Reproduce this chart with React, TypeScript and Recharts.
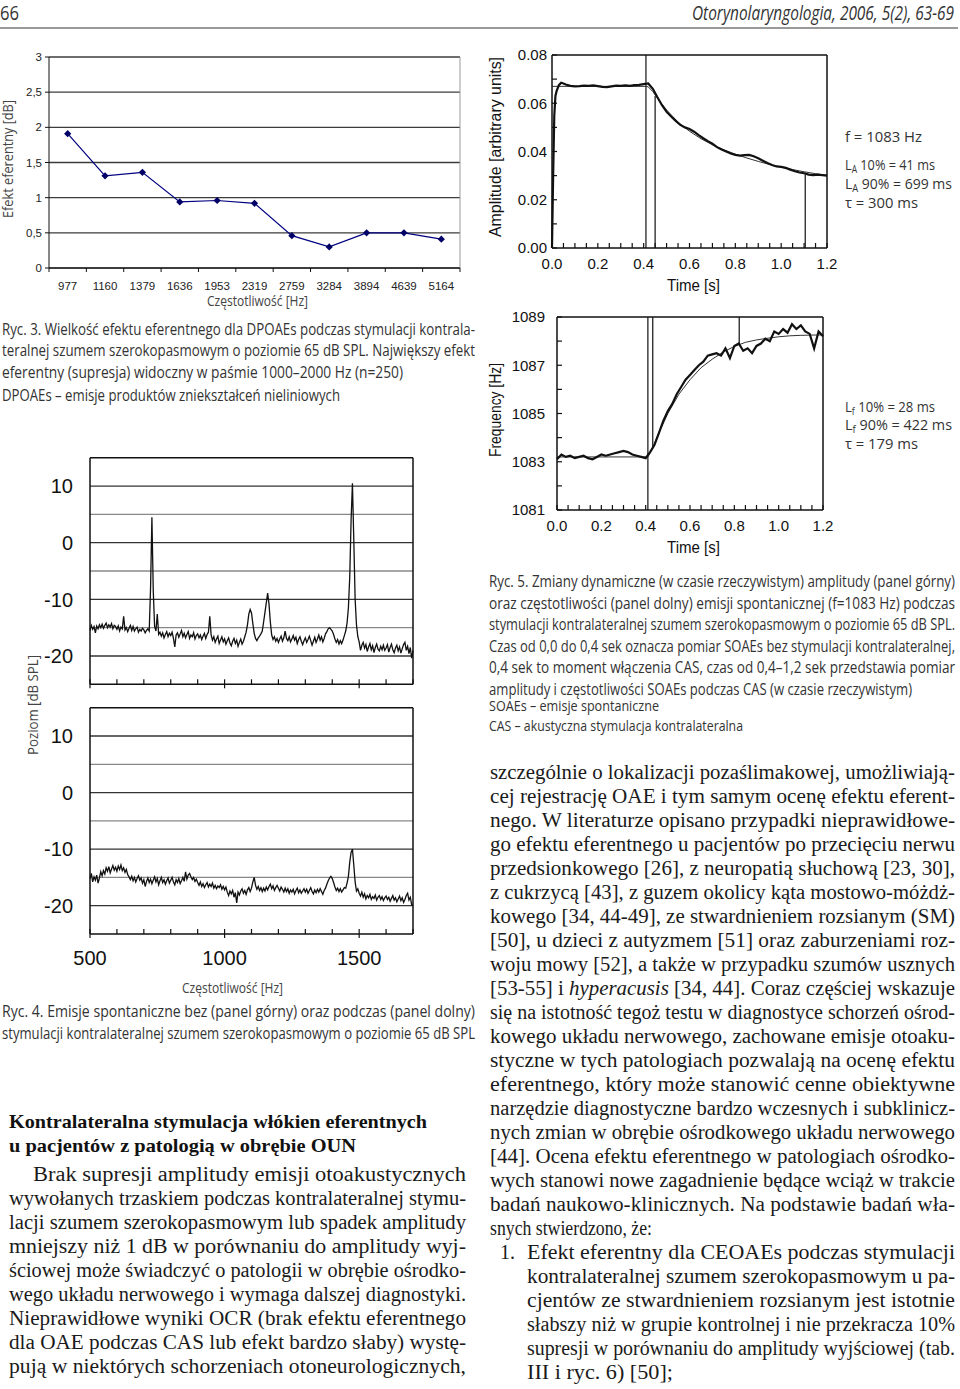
import React from "react";
import { LineChart, Line, XAxis, YAxis, CartesianGrid, ReferenceLine } from "recharts";

// ---- Ryc. 3: efferent effect for DPOAEs ----
const DPOAE_FREQS = ["977", "1160", "1379", "1636", "1953", "2319", "2759", "3284", "3894", "4639", "5164"];
const DPOAE_EFFECT = [1.91, 1.31, 1.36, 0.94, 0.96, 0.92, 0.46, 0.3, 0.5, 0.5, 0.41];
const EFFECT_TICKS = [0, 0.5, 1, 1.5, 2, 2.5, 3];

// ---- Ryc. 5: amplitude of SOAE (upper panel) ----
const AMP_TIME = [0, 0.005, 0.01, 0.015, 0.02, 0.03, 0.04, 0.05, 0.06, 0.08, 0.1, 0.12, 0.14, 0.16, 0.18, 0.2, 0.22, 0.24, 0.26, 0.28, 0.3, 0.32, 0.34, 0.36, 0.38, 0.4, 0.42, 0.44, 0.46, 0.48, 0.5, 0.52, 0.54, 0.56, 0.58, 0.6, 0.62, 0.64, 0.66, 0.68, 0.7, 0.72, 0.74, 0.76, 0.78, 0.8, 0.82, 0.84, 0.86, 0.88, 0.9, 0.92, 0.94, 0.96, 0.98, 1.0, 1.02, 1.04, 1.06, 1.08, 1.1, 1.12, 1.14, 1.16, 1.18, 1.2];
const AMP_VALUE = [0, 0.03, 0.055, 0.063, 0.065, 0.0675, 0.0685, 0.0682, 0.0678,
  0.0672, 0.067, 0.0671, 0.0673, 0.0672, 0.0674, 0.0671,
  0.0668, 0.0667, 0.067, 0.0673, 0.0672, 0.0674, 0.0672, 0.0675, 0.0676, 0.0679,
  0.0682, 0.066, 0.0625, 0.0592, 0.0565, 0.0545, 0.0527, 0.051, 0.05, 0.0493,
  0.0482, 0.0468, 0.0455, 0.0443, 0.0432, 0.0418, 0.0408, 0.04, 0.0392, 0.0386,
  0.0383, 0.0385, 0.0386, 0.038, 0.0372, 0.0362, 0.0352, 0.0344, 0.0338, 0.0336,
  0.0332, 0.0325, 0.0318, 0.0313, 0.031, 0.0304, 0.0302, 0.0304, 0.0302, 0.03];
const AMP_FIT_TIME = [0, 0.41, 0.42, 0.44, 0.46, 0.48, 0.5, 0.55, 0.6, 0.65, 0.7, 0.75, 0.8, 0.85, 0.9, 0.95, 1.0, 1.05, 1.1, 1.15, 1.2];
const AMP_FIT_VALUE = [0.067, 0.067, 0.0668, 0.0648, 0.0622, 0.0596, 0.0572, 0.0522, 0.0484, 0.0453, 0.0428, 0.0407, 0.0389, 0.0373, 0.0359, 0.0346, 0.0335, 0.0325, 0.0316, 0.0308, 0.0301];
const AMP_TICKS = [0, 0.01, 0.02, 0.03, 0.04, 0.05, 0.06, 0.07, 0.08];
const AMP_MARKERS = [
  { t: 0.41, from: 0, to: 0.08 },
  { t: 0.45, from: 0, to: 0.063 },
  { t: 1.105, from: 0, to: 0.0305 },
];

// ---- Ryc. 5: frequency of SOAE (lower panel) ----
const FREQ_TIME = [0, 0.02, 0.04, 0.06, 0.08, 0.1, 0.12, 0.14, 0.16, 0.18, 0.2, 0.22, 0.24, 0.26, 0.28, 0.3, 0.32, 0.34, 0.36, 0.38, 0.4, 0.42, 0.44, 0.46, 0.48, 0.5, 0.52, 0.54, 0.56, 0.58, 0.6, 0.62, 0.64, 0.66, 0.68, 0.7, 0.72, 0.74, 0.76, 0.78, 0.8, 0.82, 0.84, 0.86, 0.88, 0.9, 0.92, 0.94, 0.96, 0.98, 1.0, 1.02, 1.04, 1.06, 1.08, 1.1, 1.12, 1.14, 1.16, 1.18, 1.2];
const FREQ_VALUE = [1083.1, 1083.3, 1083.2, 1083.25, 1083.15, 1083.2, 1083.25, 1083.15, 1083.1, 1083.2,
  1083.3, 1083.25, 1083.3, 1083.35, 1083.4, 1083.45, 1083.4, 1083.3, 1083.25, 1083.2,
  1083.15, 1083.4, 1083.7, 1084.2, 1084.7, 1085.1, 1085.4, 1085.8, 1086.1, 1086.4,
  1086.6, 1086.8, 1087.0, 1087.15, 1087.4, 1087.45, 1087.5, 1087.4, 1087.7, 1087.3,
  1087.8, 1087.9, 1087.6, 1087.7, 1087.5, 1087.8, 1087.9, 1088.1, 1088.0, 1088.4,
  1088.3, 1088.5, 1088.35, 1088.7, 1088.5, 1088.65, 1088.4, 1088.3, 1087.7, 1088.4, 1088.2];
const FREQ_FIT_TIME = [0, 0.41, 0.43, 0.45, 0.5, 0.55, 0.6, 0.65, 0.7, 0.75, 0.8, 0.85, 0.9, 0.95, 1.0, 1.05, 1.1, 1.15, 1.2];
const FREQ_FIT_VALUE = [1083.2, 1083.2, 1083.55, 1084.0, 1085.0, 1085.8, 1086.4, 1086.9, 1087.25, 1087.55, 1087.78, 1087.95, 1088.05, 1088.12, 1088.18, 1088.22, 1088.24, 1088.25, 1088.26];
const FREQ_TICKS = [1081, 1082, 1083, 1084, 1085, 1086, 1087, 1088, 1089];
const FREQ_MARKERS = [
  { t: 0.41, from: 1081, to: 1089 },
  { t: 0.432, from: 1083.55, to: 1089 },
  { t: 0.822, from: 1087.85, to: 1089 },
];
const TIME_TICKS = [0, 0.05, 0.1, 0.15, 0.2, 0.25, 0.3, 0.35, 0.4, 0.45, 0.5, 0.55, 0.6, 0.65, 0.7, 0.75, 0.8, 0.85, 0.9, 0.95, 1.0, 1.05, 1.1, 1.15, 1.2];

// ---- Ryc. 4: spectra, 500..1700 Hz every 5 Hz ----
const SPEC_START = 500;
const SPEC_STEP = 5;
const SPEC_OFF = [
  -15.5, -14.6, -15.3, -14.8, -15.9, -14.7, -15.2, -14.5, -15.0, -14.4, -15.1, -14.6, -14.2, -15.0, -14.5, -14.9, -14.3, -15.2, -14.6, -14.8,
  -15.3, -14.7, -15.6, -14.9, -15.2, -13.0, -15.4, -15.0, -15.7, -15.1, -14.6, -15.5, -14.8, -15.6, -15.2, -14.9, -15.8, -15.3, -15.6, -15.1,
  -15.4, -15.9, -15.5, -15.2, -15.6, -8.0, 4.5, -8.5, -14.8, -15.6, -12.6, -16.2, -15.8, -16.5, -15.9, -16.8, -16.2, -15.7, -16.6, -16.0,
  -16.4, -15.8, -16.9, -18.4, -16.3, -15.9, -16.7, -16.1, -15.5, -16.6, -16.0, -16.8, -16.2, -15.7, -16.9, -16.3, -16.6, -15.9, -17.0, -16.4,
  -16.1, -16.8, -16.3, -17.1, -16.5, -16.0, -16.9, -16.2, -15.8, -13.0, -16.3, -17.2, -16.6, -17.6, -17.0, -16.5, -17.8, -17.2, -16.6, -17.5,
  -17.0, -17.9, -17.3, -16.8, -17.7, -18.2, -17.4, -16.9, -17.8, -17.2, -18.3, -17.6, -17.0, -17.9, -17.4, -16.6, -15.8, -14.5, -12.6, -11.8,
  -12.4, -14.3, -16.0, -16.9, -17.3, -16.8, -16.5, -16.1, -15.6, -14.0, -12.3, -10.6, -8.9, -10.8, -14.0, -16.3, -17.1, -16.6, -17.4, -16.9,
  -17.6, -17.0, -16.5, -17.4, -16.8, -15.6, -16.9, -17.3, -16.6, -17.5, -17.0, -16.4, -17.2, -16.7, -17.8, -17.1, -16.6, -17.4, -18.0, -17.3,
  -16.8, -17.6, -17.1, -16.5, -17.3, -18.1, -17.4, -16.7, -17.6, -17.0, -16.3, -17.2, -16.6, -17.5, -16.9, -16.1, -15.7, -15.2, -15.0, -15.3,
  -15.6, -16.2, -17.0, -17.6, -17.1, -17.9, -17.3, -17.8, -17.2, -16.4, -15.6, -14.2, -11.5, -6.0, 4.0, 10.5, 0.5, -10.0, -14.5, -16.6,
  -17.5, -19.0, -18.1, -17.6, -18.6, -18.0, -19.2, -18.4, -17.8, -18.9, -18.2, -19.4, -18.5, -17.9, -18.8, -19.1, -18.3, -18.9, -18.1, -19.0,
  -18.6, -18.0, -19.3, -18.5, -17.9, -18.9, -19.4, -18.6, -18.1, -19.1, -18.4, -19.5, -18.7, -18.0, -17.6, -19.0, -18.3, -19.6, -18.5, -20.4, -19.0,
];
const SPEC_ON = [
  -15.2, -14.3, -15.8, -14.9, -15.5, -14.6, -16.0, -15.1, -14.0, -14.7, -13.8, -14.4, -13.3, -13.9, -13.1, -14.2, -13.5, -12.9, -13.7, -13.2,
  -13.9, -13.0, -13.6, -12.8, -13.8, -13.3, -14.1, -13.6, -14.5, -14.9, -15.4, -14.8, -15.6, -15.0, -15.8, -15.2, -14.7, -15.5, -15.1, -16.0,
  -15.4, -16.6, -15.7, -15.1, -15.9, -15.3, -16.1, -15.5, -14.9, -15.8, -15.2, -16.3, -15.6, -15.0, -15.9, -15.4, -16.2, -15.6, -15.1, -16.0,
  -15.5, -15.0, -15.8, -16.3, -15.4, -15.9, -15.2, -16.1, -15.6, -15.0, -15.7, -14.0, -15.3, -14.6, -14.3, -14.9, -15.4, -15.0, -15.7, -15.3,
  -15.9, -16.4, -15.8, -16.6, -16.1, -16.8, -16.3, -15.9, -16.7, -16.2, -16.6, -16.0, -16.9, -16.4, -17.0, -16.5, -16.8, -16.3, -17.1, -16.6,
  -17.2, -16.7, -17.6, -18.2, -17.4, -17.9, -17.3, -18.5, -17.7, -19.5, -17.6, -18.1, -17.4, -17.0, -17.8, -17.3, -18.0, -17.2, -16.8, -17.5,
  -16.9, -15.8, -15.0, -16.4, -17.1, -16.6, -17.3, -16.8, -17.5, -16.9, -17.4, -16.7, -17.2, -16.6, -16.2, -17.0, -16.5, -17.3, -16.8, -16.4,
  -16.9, -17.4, -16.7, -17.1, -17.6, -16.9, -17.5, -17.0, -17.8, -17.2, -17.6, -17.1, -17.9, -17.3, -16.9, -17.7, -17.2, -17.8, -17.4, -17.0,
  -17.6, -17.1, -17.8, -17.3, -16.8, -17.5, -17.9, -17.2, -17.7, -17.1, -17.6, -17.0, -17.5, -18.0, -17.3, -16.9, -16.2, -15.6, -15.1, -14.8,
  -15.2, -15.9, -16.7, -17.3, -16.9, -17.5, -17.0, -17.6, -17.2, -16.8, -16.9, -16.0, -14.8, -12.3, -10.6, -10.0, -12.8, -15.8, -17.4, -17.0,
  -17.8, -18.3, -17.6, -18.5, -17.9, -18.8, -18.2, -18.6, -18.0, -18.9, -18.4, -18.7, -18.1, -19.0, -18.5, -18.2, -18.9, -18.4, -19.1, -18.6,
  -18.3, -18.9, -18.5, -19.2, -18.7, -18.2, -19.0, -18.6, -19.3, -18.8, -18.3, -19.1, -18.6, -19.4, -18.9, -18.2, -17.8, -19.0, -18.5, -19.8, -20.0,
];
const SPEC_TICKS = [500, 600, 700, 800, 900, 1000, 1100, 1200, 1300, 1400, 1500, 1600, 1700];
const SPEC_LABELS = [500, 1000, 1500];
const LEVEL_LABELS = [-20, -10, 0, 10];
const LEVEL_GRID = [-20, -15, -10, -5, 0, 5, 10];

// ---- text ----
const RYC3 = [
  "Ryc. 3. Wielkość efektu eferentnego dla DPOAEs podczas stymulacji kontrala-",
  "teralnej szumem szerokopasmowym o poziomie 65 dB SPL. Największy efekt",
  "eferentny (supresja) widoczny w paśmie 1000–2000 Hz (n=250)",
];
const RYC5 = [
  "Ryc. 5. Zmiany dynamiczne (w czasie rzeczywistym) amplitudy (panel górny)",
  "oraz częstotliwości (panel dolny) emisji spontanicznej (f=1083 Hz) podczas",
  "stymulacji kontralateralnej szumem szerokopasmowym o poziomie 65 dB SPL.",
  "Czas od 0,0 do 0,4 sek oznacza pomiar SOAEs bez stymulacji kontralateralnej,",
  "0,4 sek to moment włączenia CAS, czas od 0,4–1,2 sek przedstawia pomiar",
  "amplitudy i częstotliwości SOAEs podczas CAS (w czasie rzeczywistym)",
];
const RYC4 = [
  "Ryc. 4. Emisje spontaniczne bez (panel górny) oraz podczas (panel dolny)",
  "stymulacji kontralateralnej szumem szerokopasmowym o poziomie 65 dB SPL",
];
const HEADING = ["Kontralateralna stymulacja włókien eferentnych", "u pacjentów z patologią w obrębie OUN"];
const LEFT_BODY = [
  "Brak supresji amplitudy emisji otoakustycznych",
  "wywołanych trzaskiem podczas kontralateralnej stymu-",
  "lacji szumem szerokopasmowym lub spadek amplitudy",
  "mniejszy niż 1 dB w porównaniu do amplitudy wyj-",
  "ściowej może świadczyć o patologii w obrębie ośrodko-",
  "wego układu nerwowego i wymaga dalszej diagnostyki.",
  "Nieprawidłowe wyniki OCR (brak efektu eferentnego",
  "dla OAE podczas CAS lub efekt bardzo słaby) wystę-",
  "pują w niektórych schorzeniach otoneurologicznych,",
];
const RIGHT_BODY = [
  "szczególnie o lokalizacji pozaślimakowej, umożliwiają-",
  "cej rejestrację OAE i tym samym ocenę efektu eferent-",
  "nego. W literaturze opisano przypadki nieprawidłowe-",
  "go efektu eferentnego u pacjentów po przecięciu nerwu",
  "przedsionkowego [26], z neuropatią słuchową [23, 30],",
  "z cukrzycą [43], z guzem okolicy kąta mostowo-móżdż-",
  "kowego [34, 44-49], ze stwardnieniem rozsianym (SM)",
  "[50], u dzieci z autyzmem [51] oraz zaburzeniami roz-",
  "woju mowy [52], a także w przypadku szumów usznych",
  "[53-55] i *hyperacusis* [34, 44]. Coraz częściej wskazuje",
  "się na istotność tegoż testu w diagnostyce schorzeń ośrod-",
  "kowego układu nerwowego, zachowane emisje otoaku-",
  "styczne w tych patologiach pozwalają na ocenę efektu",
  "eferentnego, który może stanowić cenne obiektywne",
  "narzędzie diagnostyczne bardzo wczesnych i subklinicz-",
  "nych zmian w obrębie ośrodkowego układu nerwowego",
  "[44]. Ocena efektu eferentnego w patologiach ośrodko-",
  "wych stanowi nowe zagadnienie będące wciąż w trakcie",
  "badań naukowo-klinicznych. Na podstawie badań wła-",
  "snych stwierdzono, że:",
];
const LIST_ONE = [
  "Efekt eferentny dla CEOAEs podczas stymulacji",
  "kontralateralnej szumem szerokopasmowym u pa-",
  "cjentów ze stwardnieniem rozsianym jest istotnie",
  "słabszy niż w grupie kontrolnej i nie przekracza 10%",
  "supresji w porównaniu do amplitudy wyjściowej (tab.",
  "III i ryc. 6) [50];",
];

const ARIAL = '"Liberation Sans", Arial, sans-serif';
const CAPTION = '"Liberation Sans Narrow", "Open Sans", "DejaVu Sans Condensed", sans-serif';
const SERIF = '"Liberation Serif", "DejaVu Serif", serif';
const INK = "#111";

const effectData = DPOAE_FREQS.map((f, i) => ({ pos: i + 0.5, label: f, value: DPOAE_EFFECT[i] }));
const CAT_TICKS = DPOAE_FREQS.flatMap((_, i) => [i, i + 0.5]).concat([DPOAE_FREQS.length]);

const ampData = AMP_TIME.map((t, i) => ({ t, v: AMP_VALUE[i] }));
const ampFit = AMP_FIT_TIME.map((t, i) => ({ t, v: AMP_FIT_VALUE[i] }));
const freqData = FREQ_TIME.map((t, i) => ({ t, v: FREQ_VALUE[i] }));
const freqFit = FREQ_FIT_TIME.map((t, i) => ({ t, v: FREQ_FIT_VALUE[i] }));
const specOff = SPEC_OFF.map((db, i) => ({ f: SPEC_START + SPEC_STEP * i, db }));
const specOn = SPEC_ON.map((db, i) => ({ f: SPEC_START + SPEC_STEP * i, db }));

const CatTick = (props: any) => {
  const { x, y, payload } = props;
  const v = payload.value;
  if (Number.isInteger(v)) {
    return <line x1={x} x2={x} y1={y} y2={y + 4} stroke={INK} strokeWidth={1} />;
  }
  return (
    <text x={x} y={y + 22} textAnchor="middle" fontSize={11.5} fill="#222" fontFamily={ARIAL}>
      {DPOAE_FREQS[Math.floor(v)]}
    </text>
  );
};

const Diamond = (props: any) => {
  const { cx, cy } = props;
  if (cx == null || cy == null) return null;
  const r = 3.6;
  return <polygon points={`${cx},${cy - r} ${cx + r},${cy} ${cx},${cy + r} ${cx - r},${cy}`} fill="#000066" />;
};

// tick renderers drawing tick marks pointing into the plot box
const bottomTick = (fmt: (v: number) => string, size: number, gap: number, major?: (v: number) => boolean) => (p: any) => {
  const { x, y, payload } = p;
  const label = fmt(payload.value);
  const big = major ? major(payload.value) : false;
  return (
    <g>
      <line x1={x} x2={x} y1={big ? y + 4 : y} y2={y - 5} stroke={INK} strokeWidth={1.2} />
      {label ? (
        <text x={x} y={y + gap} textAnchor="middle" fontSize={size} fill={INK} fontFamily={ARIAL}>{label}</text>
      ) : null}
    </g>
  );
};
const topTick = (major?: (v: number) => boolean) => (p: any) => {
  const { x, y, payload } = p;
  const big = major ? major(payload.value) : false;
  return <line x1={x} x2={x} y1={big ? y - 4 : y} y2={y + 5} stroke={INK} strokeWidth={1.2} />;
};
const leftTick = (fmt: (v: number) => string, size: number, gap: number, inward = true) => (p: any) => {
  const { x, y, payload } = p;
  const label = fmt(payload.value);
  return (
    <g>
      {inward ? <line x1={x} x2={x + 5} y1={y} y2={y} stroke={INK} strokeWidth={1.2} /> : null}
      {label ? (
        <text x={x - gap} y={y} dy="0.36em" textAnchor="end" fontSize={size} fill={INK} fontFamily={ARIAL}>{label}</text>
      ) : null}
    </g>
  );
};
const rightTick = (dir: number) => (p: any) => {
  const { x, y } = p;
  return <line x1={x} x2={x + 5 * dir} y1={y} y2={y} stroke={INK} strokeWidth={1.2} />;
};

const fmtTime = (v: number) => (Math.round(v * 100) % 20 === 0 ? v.toFixed(1) : "");
const axisStroke = { stroke: INK, strokeWidth: 1.5 };

const EffectChart = () => (
  <LineChart width={470} height={270} data={effectData} margin={{ top: 17, right: 10, bottom: 12, left: 14 }}>
    <CartesianGrid vertical={false} stroke="#3c3c3c" strokeWidth={1.3} />
    <XAxis dataKey="pos" type="number" domain={[0, 11]} ticks={CAT_TICKS} interval={0} tickSize={0} tickMargin={0}
      tickLine={false} axisLine={{ stroke: INK }} tick={CatTick} height={30} />
    <YAxis type="number" domain={[0, 3]} ticks={EFFECT_TICKS} interval={0} width={35} tickSize={4} tickMargin={3}
      tickFormatter={(v: number) => String(v).replace(".", ",")} axisLine={{ stroke: INK }} tickLine={{ stroke: INK }}
      tick={{ fontSize: 11.5, fill: "#222", fontFamily: ARIAL }} />
    <ReferenceLine x={11} stroke="#999" strokeWidth={1} />
    <Line dataKey="value" stroke="#000080" strokeWidth={1.2} dot={Diamond} isAnimationActive={false} />
  </LineChart>
);

const TimeChart = ({ measured, fit, domain, ticks, yFmt, markers, margin, yGap }: any) => (
  <LineChart width={360} height={260} margin={margin}>
    <XAxis dataKey="t" type="number" domain={[0, 1.2]} ticks={TIME_TICKS} interval={0}
      tickSize={0} tickMargin={0} tickLine={false} height={40} axisLine={axisStroke}
      tick={bottomTick(fmtTime, 15, 21)} />
    <XAxis xAxisId="top" orientation="top" type="number" domain={[0, 1.2]} ticks={TIME_TICKS} interval={0}
      tickSize={0} tickMargin={0} tickLine={false} height={1} axisLine={axisStroke} tick={topTick()} />
    <YAxis type="number" domain={domain} ticks={ticks} interval={0} width={50}
      tickSize={0} tickMargin={0} tickLine={false} axisLine={axisStroke} tick={leftTick(yFmt, 15, yGap)} />
    <YAxis yAxisId="right" orientation="right" type="number" domain={domain} ticks={ticks} interval={0}
      width={1} tickSize={0} tickMargin={0} tickLine={false} axisLine={axisStroke} tick={rightTick(-1)} />
    {markers.map((m: any, i: number) => (
      <ReferenceLine key={i} segment={[{ x: m.t, y: m.from }, { x: m.t, y: m.to }]} stroke={INK} strokeWidth={1.2} />
    ))}
    <Line data={fit} dataKey="v" stroke="#333" strokeWidth={1} dot={false} isAnimationActive={false} />
    <Line data={measured} dataKey="v" stroke={INK} strokeWidth={2.2} dot={false} isAnimationActive={false} />
  </LineChart>
);

const isMajorHz = (v: number) => SPEC_LABELS.includes(v);

const SpectrumChart = ({ data, height, bottom, showX }: any) => (
  <LineChart width={400} height={height} data={data} margin={{ top: 11.7, right: 9, bottom, left: 10 }}>
    {LEVEL_GRID.map((g) => (
      <ReferenceLine key={g} y={g} stroke={g % 10 === 0 ? "#333" : "#888"} strokeWidth={1.3} />
    ))}
    <XAxis dataKey="f" type="number" domain={[500, 1700]} ticks={SPEC_TICKS} interval={0}
      tickSize={0} tickMargin={0} tickLine={false} height={showX ? 50 : 1} axisLine={axisStroke}
      tick={bottomTick((v: number) => (showX && isMajorHz(v) ? String(v) : ""), 20, 31, isMajorHz)} />
    <XAxis xAxisId="top" orientation="top" type="number" domain={[500, 1700]} ticks={SPEC_TICKS} interval={0}
      tickSize={0} tickMargin={0} tickLine={false} height={1} axisLine={axisStroke} tick={topTick(isMajorHz)} />
    <YAxis type="number" domain={[-25, 15]} ticks={LEVEL_LABELS} interval={0} width={50}
      tickSize={0} tickMargin={0} tickLine={false} axisLine={axisStroke}
      tick={leftTick((v: number) => String(v), 20, 17, false)} />
    <YAxis yAxisId="right" orientation="right" type="number" domain={[-25, 15]} ticks={LEVEL_GRID} interval={0}
      width={8} tickSize={0} tickMargin={0} tickLine={false} axisLine={axisStroke} tick={rightTick(1)} />
    <Line dataKey="db" stroke={INK} strokeWidth={1.3} dot={false} isAnimationActive={false} />
  </LineChart>
);

const rich = (s: string) =>
  s.split("*").map((p, i) => (i % 2 ? <tspan key={i} fontStyle="italic">{p}</tspan> : <tspan key={i}>{p}</tspan>));

const T = ({ x, y, w, size, font, fill = "#222", weight, italic, children, rotate }: any) => (
  <text
    x={x}
    y={y}
    fontSize={size}
    fontFamily={font}
    fill={fill}
    fontWeight={weight}
    fontStyle={italic ? "italic" : undefined}
    textLength={w}
    lengthAdjust="spacingAndGlyphs"
    transform={rotate ? "rotate(-90)" : undefined}
  >
    {children}
  </text>
);

const Sub = ({ main, sub, rest }: any) => (
  <>
    <tspan>{main}</tspan>
    <tspan fontSize={10} dy={3}>{sub}</tspan>
    <tspan dy={-3}>{rest}</tspan>
  </>
);

const Overlay = () => (
  <svg width={960} height={1389} style={{ position: "absolute", left: 0, top: 0, pointerEvents: "none" }}>
    {/* header */}
    <T x={0} y={20} w={19} size={20} font={CAPTION} fill="#333">66</T>
    <T x={692} y={20} w={262} size={20} font={CAPTION} fill="#333" italic>Otorynolaryngologia, 2006, 5(2), 63-69</T>
    <line x1={0} x2={958} y1={28} y2={28} stroke="#777" strokeWidth={1.5} />

    {/* Ryc. 3 axis titles and caption */}
    <T x={-218} y={13} w={118} size={14} font={CAPTION} fill="#444" rotate>Efekt eferentny [dB]</T>
    <T x={207} y={306} w={101} size={15} font={CAPTION} fill="#444">Częstotliwość [Hz]</T>
    {RYC3.map((s, i) => (
      <T key={i} x={2} y={335 + 21.3 * i} w={i < 2 ? 473 : 401} size={16.5} font={CAPTION} fill="#333">{s}</T>
    ))}
    <T x={2} y={401} w={338} size={16.5} font={CAPTION} fill="#333">DPOAEs – emisje produktów zniekształceń nieliniowych</T>

    {/* Ryc. 5 axis titles + annotations */}
    <T x={-237} y={501} w={180} size={16} font={ARIAL} fill={INK} rotate>Amplitude [arbitrary units]</T>
    <T x={-457} y={501} w={94} size={16} font={ARIAL} fill={INK} rotate>Frequency [Hz]</T>
    <T x={667} y={291} w={53} size={16} font={ARIAL} fill={INK}>Time [s]</T>
    <T x={667} y={553} w={53} size={16} font={ARIAL} fill={INK}>Time [s]</T>
    <T x={845} y={142} w={77} size={15} font={CAPTION} fill="#333">f = 1083 Hz</T>
    <T x={845} y={170} w={90} size={15} font={CAPTION} fill="#333"><Sub main="L" sub="A" rest=" 10% = 41 ms" /></T>
    <T x={845} y={189} w={107} size={15} font={CAPTION} fill="#333"><Sub main="L" sub="A" rest=" 90% = 699 ms" /></T>
    <T x={845} y={208} w={73} size={15} font={CAPTION} fill="#333">τ = 300 ms</T>
    <T x={845} y={412} w={90} size={15} font={CAPTION} fill="#333"><Sub main="L" sub="f" rest=" 10% = 28 ms" /></T>
    <T x={845} y={430} w={107} size={15} font={CAPTION} fill="#333"><Sub main="L" sub="f" rest=" 90% = 422 ms" /></T>
    <T x={845} y={449} w={73} size={15} font={CAPTION} fill="#333">τ = 179 ms</T>
    {RYC5.map((s, i) => (
      <T key={i} x={489} y={587 + 21.5 * i} w={i < 5 ? 466 : 423} size={16.5} font={CAPTION} fill="#333">{s}</T>
    ))}
    <T x={489} y={711} w={170} size={14.5} font={CAPTION} fill="#333">SOAEs – emisje spontaniczne</T>
    <T x={489} y={731} w={254} size={14.5} font={CAPTION} fill="#333">CAS – akustyczna stymulacja kontralateralna</T>

    {/* Ryc. 4 */}
    <T x={-755} y={38} w={100} size={14} font={CAPTION} fill="#444" rotate>Poziom [dB SPL]</T>
    <T x={182} y={993} w={101} size={15} font={CAPTION} fill="#444">Częstotliwość [Hz]</T>
    {RYC4.map((s, i) => (
      <T key={i} x={2} y={1017 + 22 * i} w={473} size={16.5} font={CAPTION} fill="#333">{s}</T>
    ))}

    {/* left column */}
    {HEADING.map((s, i) => (
      <T key={i} x={9} y={1128 + 24 * i} w={i === 0 ? 418 : 347} size={19.5} font={SERIF} fill={INK} weight="bold">{s}</T>
    ))}
    {LEFT_BODY.map((s, i) => (
      <T key={i} x={i === 0 ? 33 : 9} y={1181 + 24 * i} w={i === 0 ? 433 : 457} size={20} font={SERIF} fill="#1a1a1a">{s}</T>
    ))}

    {/* right column */}
    {RIGHT_BODY.map((s, i) => (
      <T key={i} x={490} y={779 + 24 * i} w={i === RIGHT_BODY.length - 1 ? 162 : 465} size={20} font={SERIF} fill="#1a1a1a">{rich(s)}</T>
    ))}
    <T x={500} y={779 + 24 * 20} size={20} font={SERIF} fill="#1a1a1a">1.</T>
    {LIST_ONE.map((s, i) => (
      <T key={i} x={527} y={779 + 24 * (20 + i)} w={i === LIST_ONE.length - 1 ? 146 : 428} size={20} font={SERIF} fill="#1a1a1a">{s}</T>
    ))}
  </svg>
);

export default function App() {
  return (
    <div style={{ position: "absolute", left: 0, top: 0, width: 960, height: 1389, background: "#fff", overflow: "hidden" }}>
      <div style={{ position: "absolute", left: 0, top: 40 }}>
        <EffectChart />
      </div>
      <div style={{ position: "absolute", left: 480, top: 40 }}>
        <TimeChart measured={ampData} fit={ampFit} domain={[0, 0.08]} ticks={AMP_TICKS}
          yFmt={(v: number) => (Math.round(v * 100) % 2 === 0 ? v.toFixed(2) : "")}
          markers={AMP_MARKERS} margin={{ top: 14, right: 12, bottom: 12, left: 22 }} yGap={5} />
      </div>
      <div style={{ position: "absolute", left: 480, top: 300 }}>
        <TimeChart measured={freqData} fit={freqFit} domain={[1081, 1089]} ticks={FREQ_TICKS}
          yFmt={(v: number) => (v % 2 === 1 ? String(v) : "")}
          markers={FREQ_MARKERS} margin={{ top: 16, right: 16, bottom: 10, left: 27 }} yGap={12} />
      </div>
      <div style={{ position: "absolute", left: 30, top: 445 }}>
        <SpectrumChart data={specOff} height={250} bottom={9.7} showX={false} />
      </div>
      <div style={{ position: "absolute", left: 30, top: 695 }}>
        <SpectrumChart data={specOn} height={300} bottom={11} showX={true} />
      </div>
      <Overlay />
    </div>
  );
}
